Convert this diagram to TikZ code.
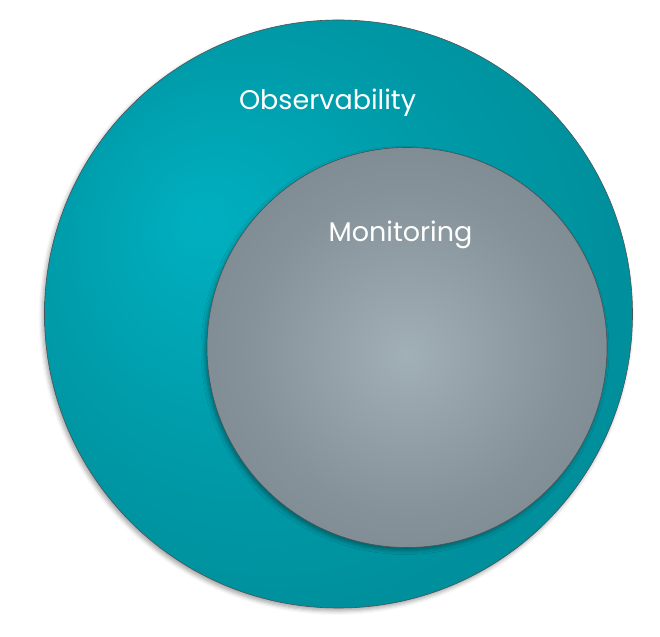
\documentclass[tikz,border=0pt]{standalone}
\usepackage{fontspec}
\setmainfont{Poppins}
\usepackage{tikz}
\usetikzlibrary{positioning,shadows.blur}
\definecolor{ObsLight}{HTML}{00B0C0}
\definecolor{ObsMid}{HTML}{009AA8}
\definecolor{ObsDark}{HTML}{007C86}
\definecolor{MonLight}{HTML}{A1AFB6}
\definecolor{MonMid}{HTML}{85929A}
\definecolor{MonDark}{HTML}{6E7A80}
\definecolor{Rim}{HTML}{4A5256}
\pgfdeclareradialshading{obsglow}{\pgfpoint{-12bp}{8bp}}{color(0bp)=(ObsLight); color(18bp)=(ObsMid); color(50bp)=(ObsDark)}
\pgfdeclareradialshading{monglow}{\pgfpoint{0bp}{-1bp}}{color(0bp)=(MonLight); color(20bp)=(MonMid); color(46bp)=(MonDark); color(50bp)=(MonDark)}
\tikzset{
  ring/.style={circle,draw=Rim,line width=0.6pt,inner sep=0pt,
    blur shadow={shadow xshift=-2pt,shadow yshift=-3pt,shadow blur radius=4pt,shadow opacity=35}},
  obsring/.style={ring,shading=obsglow,minimum size=588pt},
  monring/.style={ring,shading=monglow,minimum size=400pt},
  tag/.style={text=white,font=\fontsize{27}{32}\selectfont,anchor=base,inner sep=0pt}
}
\begin{document}
\begin{tikzpicture}[x=1pt,y=1pt]
  \useasboundingbox (0,0) rectangle (660,636);
  \node[obsring] (obs) at (338.5,322) {};
  \node[monring] (mon) at (407,288.5) {};
  \node[tag] (obslabel) at (327.5,526) {Observability};
  \node[tag] (monlabel) at (400.5,394) {Monitoring};
\end{tikzpicture}
\end{document}
